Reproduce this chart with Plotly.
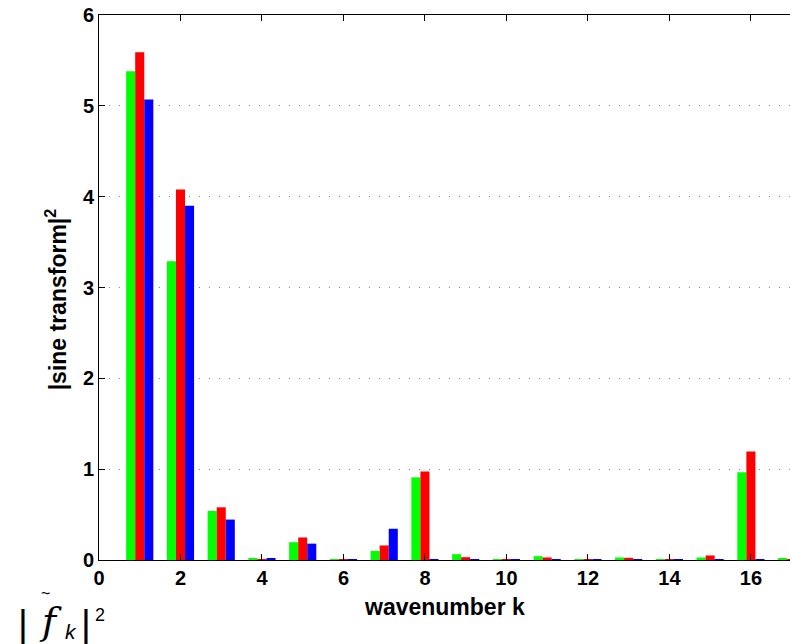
import plotly.graph_objects as go

# wavenumbers and squared sine-transform magnitudes for the three signals
k = list(range(1, 18))
green_vals = [5.38, 3.29, 0.54, 0.017, 0.196, 0.004, 0.10, 0.91, 0.064, 0.005,
              0.042, 0.005, 0.028, 0.004, 0.028, 0.965, 0.017]
red_vals = [5.59, 4.08, 0.58, 0.004, 0.248, 0.004, 0.16, 0.975, 0.031, 0.005,
            0.028, 0.005, 0.024, 0.004, 0.05, 1.195, 0.01]
blue_vals = [5.07, 3.90, 0.445, 0.015, 0.18, 0.004, 0.344, 0.005, 0.005, 0.005,
             0.004, 0.005, 0.004, 0.004, 0.004, 0.005, 0.004]

x_ticks = [0, 2, 4, 6, 8, 10, 12, 14, 16]
y_ticks = [0, 1, 2, 3, 4, 5, 6]

fig = go.Figure()
for vals, col in [(green_vals, "#00ff00"), (red_vals, "#ff0000"), (blue_vals, "#0000ff")]:
    fig.add_trace(go.Bar(x=k, y=vals, marker=dict(color=col, line=dict(width=0)),
                         showlegend=False))

sans = "Liberation Sans, Arial, sans-serif"
serif = "DejaVu Serif, Liberation Serif, serif"

fig.update_layout(
    width=790, height=644,
    margin=dict(l=99, r=0, t=15, b=84),
    plot_bgcolor="white", paper_bgcolor="white",
    barmode="group", bargap=0.333, bargroupgap=0,
    font=dict(family=sans, color="black"),
    xaxis=dict(range=[0, 16.96], tickvals=x_ticks, ticktext=[str(v) for v in x_ticks],
               ticks="inside", ticklen=6, tickcolor="black", tickwidth=1,
               showline=True, linecolor="black", linewidth=1, mirror="ticks",
               showgrid=False, zeroline=False,
               tickfont=dict(size=20, family=sans, weight="bold")),
    yaxis=dict(range=[0, 6], tickvals=y_ticks, ticktext=[str(v) for v in y_ticks],
               ticks="inside", ticklen=6, tickcolor="black", tickwidth=1,
               showline=True, linecolor="black", linewidth=1, mirror=False,
               showgrid=True, gridcolor="#888888", gridwidth=1, griddash="1px,9px",
               zeroline=False,
               tickfont=dict(size=20, family=sans, weight="bold")),
)

# axis titles
fig.add_annotation(text="<b>wavenumber k</b>", xref="paper", yref="paper",
                   x=0.5007, y=-0.087, xanchor="center", yanchor="middle",
                   showarrow=False, font=dict(size=23, family=sans))
fig.add_annotation(text="<b>|sine transform|<sup>2</sup></b>", xref="paper", yref="paper",
                   x=-0.061, y=0.478, xanchor="center", yanchor="middle", textangle=-90,
                   showarrow=False, font=dict(size=23, family=sans))

# |f~_k|^2 label in the lower-left corner, built glyph by glyph
glyphs = [
    ("|", 23, 624, 38, sans, False),
    ("f", 50, 621, 38, serif, True),
    ("~", 45, 593, 16, sans, False),
    ("k", 71, 631, 21, sans, True),
    ("|", 86, 624, 38, sans, False),
    ("2", 100, 615, 18, sans, False),
]
for ch, px, py, size, fam, ital in glyphs:
    txt = f"<i>{ch}</i>" if ital else ch
    fig.add_annotation(text=txt, xref="paper", yref="paper",
                       x=(px - 99) / 691, y=(560 - py) / 545,
                       xanchor="center", yanchor="middle", showarrow=False,
                       font=dict(size=size, family=fam, color="black"))

fig.write_html("out.html")
